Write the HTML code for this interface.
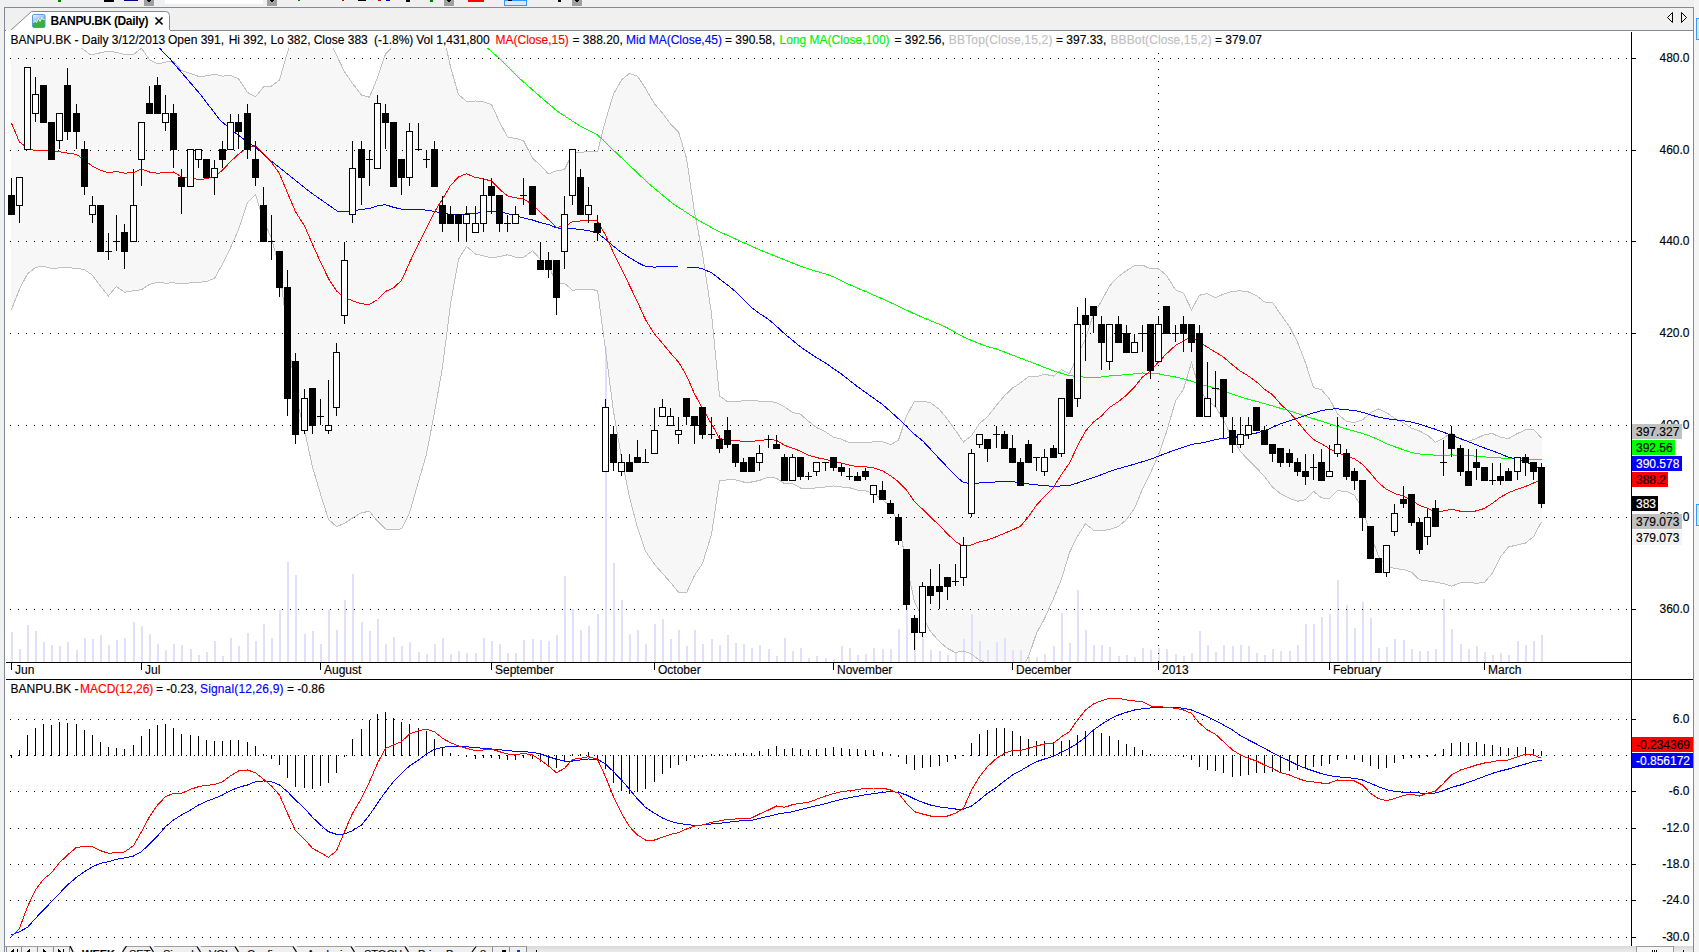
<!DOCTYPE html>
<html><head><meta charset="utf-8"><title>BANPU.BK (Daily)</title>
<style>
html,body{margin:0;padding:0}
body{width:1699px;height:952px;overflow:hidden;background:#f0f0f0;position:relative;font-family:"Liberation Sans",sans-serif;font-size:12px;color:#000}
.t,.ax,.bx{-webkit-text-stroke:0.15px currentColor}
.t{position:absolute;white-space:nowrap;line-height:14px;height:14px}
.ax{position:absolute;white-space:nowrap;line-height:14px;height:14px;right:9.5px;text-align:right}
.bx{position:absolute;left:1632px;height:15px;line-height:16px;padding-left:4px;box-sizing:border-box;white-space:nowrap;overflow:hidden}
.r{color:#f00}.b{color:#00f}.g{color:#00f000}.gy{color:#c0c0c0}
</style></head><body>
<div style="position:absolute;left:4px;top:7px;width:1690px;height:1px;background:#828a96"></div>
<div style="position:absolute;left:4px;top:8px;width:1px;height:944px;background:#828a96"></div>
<div style="position:absolute;left:1693px;top:8px;width:1px;height:944px;background:#828a96"></div>
<div style="position:absolute;left:5px;top:30px;width:1688px;height:1px;background:#828a96"></div>
<svg width="1699" height="952" viewBox="0 0 1699 952" style="position:absolute;left:0;top:0" shape-rendering="crispEdges">
<defs><clipPath id="cp"><rect x="5" y="31" width="1626" height="631"/></clipPath><clipPath id="cm"><rect x="5" y="680" width="1626" height="266"/></clipPath></defs>
<rect x="5" y="31" width="1688" height="915" fill="#fff"/>
<g clip-path="url(#cp)">
<polygon points="11.4,30.0 70.0,40.0 80.0,47.0 91.0,55.0 108.0,51.0 116.4,52.5 124.5,54.3 133.5,54.5 141.5,48.2 149.5,59.7 157.5,64.0 165.5,62.1 173.5,61.1 181.5,70.5 190.5,73.4 198.5,76.4 206.5,75.9 214.5,74.3 222.5,76.1 230.5,75.5 238.5,78.6 247.5,92.4 255.5,96.9 263.5,86.9 271.5,86.1 279.5,79.9 287.5,52.1 295.5,28.8 304.5,21.5 312.5,21.7 320.5,30.1 328.5,37.9 336.5,55.2 344.5,71.8 352.5,83.4 361.5,95.0 369.5,97.3 377.5,77.7 385.5,54.0 393.5,45.7 401.5,32.2 409.5,12.5 418.5,5.7 426.5,1.5 434.5,11.4 442.5,30.5 450.5,66.8 458.5,94.6 466.5,101.3 475.5,101.0 483.5,101.7 491.5,104.4 499.5,121.9 507.5,137.0 515.5,138.4 523.5,140.6 532.5,158.2 540.5,165.4 548.5,173.9 556.5,170.7 564.5,169.7 572.5,153.1 580.5,152.4 588.5,151.4 597.5,151.8 605.5,120.7 613.5,94.2 621.5,80.0 629.5,73.3 637.5,76.3 645.5,88.3 654.5,103.9 662.5,113.1 670.5,123.8 678.5,131.8 686.5,158.1 694.5,212.1 702.5,253.6 711.5,313.4 719.5,395.9 727.5,401.7 735.5,401.7 743.5,400.7 751.5,400.7 759.5,401.1 768.5,401.3 776.5,402.6 784.5,406.8 792.5,412.4 800.5,414.2 808.5,421.3 816.5,427.5 825.5,431.8 833.5,437.1 841.5,439.2 849.5,442.8 857.5,442.8 865.5,442.7 873.5,441.9 882.5,441.8 890.5,444.7 898.5,440.1 906.5,415.8 914.5,401.2 922.5,401.2 930.5,402.6 939.5,409.5 947.5,419.3 955.5,430.5 963.5,441.9 971.5,435.7 979.5,423.4 987.5,416.8 996.5,405.2 1004.5,395.7 1012.5,388.1 1020.5,382.9 1028.5,376.7 1036.5,376.9 1044.5,374.2 1053.5,376.0 1061.5,369.7 1069.5,373.7 1077.5,355.6 1085.5,338.6 1093.5,313.9 1101.5,301.2 1109.5,285.9 1118.5,276.6 1126.5,270.6 1134.5,265.7 1142.5,265.1 1150.5,268.8 1158.5,268.9 1166.5,275.3 1175.5,289.9 1183.5,293.1 1191.5,309.8 1199.5,295.2 1207.5,293.6 1215.5,297.6 1223.5,294.2 1232.5,291.3 1240.5,290.8 1248.5,292.0 1256.5,295.7 1264.5,302.0 1272.5,302.6 1280.5,314.1 1289.5,326.6 1297.5,342.2 1305.5,362.8 1313.5,387.7 1321.5,389.7 1329.5,398.9 1337.5,413.9 1346.5,421.4 1354.5,422.5 1362.5,419.9 1370.5,412.8 1378.5,409.0 1386.5,412.6 1394.5,418.3 1403.5,422.8 1411.5,428.1 1419.5,431.0 1427.5,435.3 1435.5,442.2 1443.5,438.2 1451.5,432.6 1460.5,439.6 1468.5,441.3 1476.5,438.4 1484.5,434.6 1492.5,433.5 1500.5,437.4 1508.5,438.6 1517.5,433.5 1525.5,429.8 1533.5,429.4 1541.5,438.0 1541.5,521.9 1533.5,536.6 1525.5,543.0 1517.5,544.8 1508.5,547.0 1500.5,556.8 1492.5,573.0 1484.5,582.3 1476.5,583.3 1468.5,582.3 1460.5,582.8 1451.5,586.1 1443.5,583.6 1435.5,582.1 1427.5,581.0 1419.5,579.7 1411.5,572.2 1403.5,569.5 1394.5,568.5 1386.5,566.3 1378.5,556.5 1370.5,533.6 1362.5,508.7 1354.5,495.1 1346.5,491.3 1337.5,490.8 1329.5,498.5 1321.5,497.9 1313.5,491.3 1305.5,499.7 1297.5,501.2 1289.5,498.4 1280.5,493.8 1272.5,487.0 1264.5,476.5 1256.5,468.0 1248.5,460.1 1240.5,451.6 1232.5,438.8 1223.5,420.0 1215.5,406.7 1207.5,400.9 1199.5,389.6 1191.5,362.6 1183.5,389.2 1175.5,401.0 1166.5,432.1 1158.5,455.0 1150.5,473.0 1142.5,488.9 1134.5,508.5 1126.5,519.5 1118.5,526.4 1109.5,529.4 1101.5,530.7 1093.5,530.2 1085.5,523.9 1077.5,536.2 1069.5,552.5 1061.5,579.1 1053.5,598.6 1044.5,618.7 1036.5,633.2 1028.5,656.8 1020.5,669.6 1012.5,671.7 1004.5,670.8 996.5,668.1 987.5,663.2 979.5,660.2 971.5,654.1 963.5,651.0 955.5,652.6 947.5,648.5 939.5,641.7 930.5,631.5 922.5,616.9 914.5,602.2 906.5,564.3 898.5,523.5 890.5,506.6 882.5,499.7 873.5,493.4 865.5,490.8 857.5,490.2 849.5,487.7 841.5,487.0 833.5,486.0 825.5,487.0 816.5,487.7 808.5,489.0 800.5,488.0 792.5,483.7 784.5,483.8 776.5,478.3 768.5,477.1 759.5,480.4 751.5,482.0 743.5,482.0 735.5,479.8 727.5,479.8 719.5,480.7 711.5,534.4 702.5,563.5 694.5,575.5 686.5,592.8 678.5,592.2 670.5,582.4 662.5,573.5 654.5,564.3 645.5,551.1 637.5,527.6 629.5,497.5 621.5,457.7 613.5,411.6 605.5,349.5 597.5,290.3 588.5,289.4 580.5,289.6 572.5,290.2 564.5,283.4 556.5,283.6 548.5,265.7 540.5,259.5 532.5,250.7 523.5,257.4 515.5,257.1 507.5,254.8 499.5,256.5 491.5,258.0 483.5,255.8 475.5,254.1 466.5,246.4 458.5,259.3 450.5,304.2 442.5,367.4 434.5,412.3 426.5,454.0 418.5,481.7 409.5,512.9 401.5,528.8 393.5,530.0 385.5,529.0 377.5,521.2 369.5,511.4 361.5,512.6 352.5,518.0 344.5,523.4 336.5,526.6 328.5,519.4 320.5,494.1 312.5,466.9 304.5,430.4 295.5,394.9 287.5,333.6 279.5,267.8 271.5,238.4 263.5,220.4 255.5,194.5 247.5,202.6 238.5,229.9 230.5,247.7 222.5,264.2 214.5,278.3 206.5,281.6 198.5,282.3 190.5,282.9 181.5,283.4 173.5,282.9 165.5,283.1 157.5,282.5 149.5,284.3 141.5,289.7 133.5,290.8 124.5,292.2 116.4,286.4 108.4,296.0 100.4,286.0 92.2,275.0 84.0,269.4 67.4,267.4 51.4,268.4 42.0,266.0 35.4,267.6 27.4,274.0 20.0,288.0 11.4,309.6" fill="#f7f7f7"/>
<path d="M12 662V632M20 662V649M28 662V625M36 662V631M44 662V642M52 662V645M60 662V646M68 662V642M77 662V650M85 662V638M93 662V639M101 662V635M109 662V645M117 662V640M125 662V638M134 662V622M142 662V626M150 662V634M158 662V644M166 662V650M174 662V644M182 662V645M191 662V649M199 662V655M207 662V652M215 662V641M223 662V656M231 662V638M239 662V646M248 662V633M256 662V641M264 662V624M272 662V638M280 662V610M288 662V562M296 662V575M305 662V634M313 662V631M321 662V644M329 662V610M337 662V630M345 662V600M353 662V574M362 662V622M370 662V631M378 662V619M386 662V644M394 662V637M402 662V646M410 662V642M419 662V652M427 662V654M435 662V644M443 662V638M451 662V654M459 662V651M467 662V653M476 662V653M484 662V638M492 662V641M500 662V644M508 662V653M516 662V653M524 662V640M533 662V639M541 662V640M549 662V641M557 662V635M565 662V576M573 662V609M581 662V630M589 662V626M598 662V614M606 662V347M614 662V563M622 662V600M630 662V634M638 662V630M646 662V644M655 662V624M663 662V619M671 662V639M679 662V630M687 662V646M695 662V630M703 662V644M712 662V639M720 662V645M728 662V635M736 662V643M744 662V644M752 662V648M760 662V645M769 662V649M777 662V656M785 662V638M793 662V651M801 662V648M809 662V658M817 662V656M826 662V658M834 662V659M842 662V646M850 662V648M858 662V655M866 662V654M874 662V648M883 662V649M891 662V649M899 662V629M907 662V607M915 662V617M923 662V637M931 662V650M940 662V651M948 662V655M956 662V652M964 662V639M972 662V614M980 662V641M988 662V650M997 662V642M1005 662V638M1013 662V650M1021 662V650M1029 662V657M1037 662V657M1045 662V654M1054 662V646M1062 662V613M1070 662V643M1078 662V590M1086 662V630M1094 662V645M1102 662V645M1110 662V647M1119 662V656M1127 662V655M1135 662V657M1143 662V648M1151 662V650M1159 662V648M1167 662V649M1176 662V654M1184 662V656M1192 662V653M1200 662V631M1208 662V645M1216 662V652M1224 662V645M1233 662V646M1241 662V645M1249 662V646M1257 662V653M1265 662V655M1273 662V649M1281 662V651M1290 662V651M1298 662V645M1306 662V624M1314 662V624M1322 662V617M1330 662V614M1338 662V580M1347 662V605M1355 662V628M1363 662V602M1371 662V618M1379 662V648M1387 662V647M1395 662V639M1404 662V640M1412 662V649M1420 662V651M1428 662V651M1436 662V649M1444 662V599M1452 662V629M1461 662V644M1469 662V649M1477 662V646M1485 662V652M1493 662V655M1501 662V653M1509 662V655M1518 662V641M1526 662V645M1534 662V641M1542 662V635" stroke="#e0e0fa" stroke-width="2" fill="none"/>
</g>
<path d="M10 58.5H1631M10 150.5H1631M10 241.5H1631M10 333.5H1631M10 425.5H1631M10 517.5H1631M10 609.5H1631" stroke="#000" stroke-width="1" stroke-dasharray="1 7" fill="none"/>
<path d="M1158.5 53V662" stroke="#000" stroke-width="1" stroke-dasharray="1 7" fill="none"/>
<g clip-path="url(#cp)">
<polyline points="11.4,30.0 70.0,40.0 80.0,47.0 91.0,55.0 108.0,51.0 116.4,52.5 124.5,54.3 133.5,54.5 141.5,48.2 149.5,59.7 157.5,64.0 165.5,62.1 173.5,61.1 181.5,70.5 190.5,73.4 198.5,76.4 206.5,75.9 214.5,74.3 222.5,76.1 230.5,75.5 238.5,78.6 247.5,92.4 255.5,96.9 263.5,86.9 271.5,86.1 279.5,79.9 287.5,52.1 295.5,28.8 304.5,21.5 312.5,21.7 320.5,30.1 328.5,37.9 336.5,55.2 344.5,71.8 352.5,83.4 361.5,95.0 369.5,97.3 377.5,77.7 385.5,54.0 393.5,45.7 401.5,32.2 409.5,12.5 418.5,5.7 426.5,1.5 434.5,11.4 442.5,30.5 450.5,66.8 458.5,94.6 466.5,101.3 475.5,101.0 483.5,101.7 491.5,104.4 499.5,121.9 507.5,137.0 515.5,138.4 523.5,140.6 532.5,158.2 540.5,165.4 548.5,173.9 556.5,170.7 564.5,169.7 572.5,153.1 580.5,152.4 588.5,151.4 597.5,151.8 605.5,120.7 613.5,94.2 621.5,80.0 629.5,73.3 637.5,76.3 645.5,88.3 654.5,103.9 662.5,113.1 670.5,123.8 678.5,131.8 686.5,158.1 694.5,212.1 702.5,253.6 711.5,313.4 719.5,395.9 727.5,401.7 735.5,401.7 743.5,400.7 751.5,400.7 759.5,401.1 768.5,401.3 776.5,402.6 784.5,406.8 792.5,412.4 800.5,414.2 808.5,421.3 816.5,427.5 825.5,431.8 833.5,437.1 841.5,439.2 849.5,442.8 857.5,442.8 865.5,442.7 873.5,441.9 882.5,441.8 890.5,444.7 898.5,440.1 906.5,415.8 914.5,401.2 922.5,401.2 930.5,402.6 939.5,409.5 947.5,419.3 955.5,430.5 963.5,441.9 971.5,435.7 979.5,423.4 987.5,416.8 996.5,405.2 1004.5,395.7 1012.5,388.1 1020.5,382.9 1028.5,376.7 1036.5,376.9 1044.5,374.2 1053.5,376.0 1061.5,369.7 1069.5,373.7 1077.5,355.6 1085.5,338.6 1093.5,313.9 1101.5,301.2 1109.5,285.9 1118.5,276.6 1126.5,270.6 1134.5,265.7 1142.5,265.1 1150.5,268.8 1158.5,268.9 1166.5,275.3 1175.5,289.9 1183.5,293.1 1191.5,309.8 1199.5,295.2 1207.5,293.6 1215.5,297.6 1223.5,294.2 1232.5,291.3 1240.5,290.8 1248.5,292.0 1256.5,295.7 1264.5,302.0 1272.5,302.6 1280.5,314.1 1289.5,326.6 1297.5,342.2 1305.5,362.8 1313.5,387.7 1321.5,389.7 1329.5,398.9 1337.5,413.9 1346.5,421.4 1354.5,422.5 1362.5,419.9 1370.5,412.8 1378.5,409.0 1386.5,412.6 1394.5,418.3 1403.5,422.8 1411.5,428.1 1419.5,431.0 1427.5,435.3 1435.5,442.2 1443.5,438.2 1451.5,432.6 1460.5,439.6 1468.5,441.3 1476.5,438.4 1484.5,434.6 1492.5,433.5 1500.5,437.4 1508.5,438.6 1517.5,433.5 1525.5,429.8 1533.5,429.4 1541.5,438.0" fill="none" stroke="#c0c0c0" stroke-width="1"/>
<polyline points="11.4,309.6 20.0,288.0 27.4,274.0 35.4,267.6 42.0,266.0 51.4,268.4 67.4,267.4 84.0,269.4 92.2,275.0 100.4,286.0 108.4,296.0 116.4,286.4 124.5,292.2 133.5,290.8 141.5,289.7 149.5,284.3 157.5,282.5 165.5,283.1 173.5,282.9 181.5,283.4 190.5,282.9 198.5,282.3 206.5,281.6 214.5,278.3 222.5,264.2 230.5,247.7 238.5,229.9 247.5,202.6 255.5,194.5 263.5,220.4 271.5,238.4 279.5,267.8 287.5,333.6 295.5,394.9 304.5,430.4 312.5,466.9 320.5,494.1 328.5,519.4 336.5,526.6 344.5,523.4 352.5,518.0 361.5,512.6 369.5,511.4 377.5,521.2 385.5,529.0 393.5,530.0 401.5,528.8 409.5,512.9 418.5,481.7 426.5,454.0 434.5,412.3 442.5,367.4 450.5,304.2 458.5,259.3 466.5,246.4 475.5,254.1 483.5,255.8 491.5,258.0 499.5,256.5 507.5,254.8 515.5,257.1 523.5,257.4 532.5,250.7 540.5,259.5 548.5,265.7 556.5,283.6 564.5,283.4 572.5,290.2 580.5,289.6 588.5,289.4 597.5,290.3 605.5,349.5 613.5,411.6 621.5,457.7 629.5,497.5 637.5,527.6 645.5,551.1 654.5,564.3 662.5,573.5 670.5,582.4 678.5,592.2 686.5,592.8 694.5,575.5 702.5,563.5 711.5,534.4 719.5,480.7 727.5,479.8 735.5,479.8 743.5,482.0 751.5,482.0 759.5,480.4 768.5,477.1 776.5,478.3 784.5,483.8 792.5,483.7 800.5,488.0 808.5,489.0 816.5,487.7 825.5,487.0 833.5,486.0 841.5,487.0 849.5,487.7 857.5,490.2 865.5,490.8 873.5,493.4 882.5,499.7 890.5,506.6 898.5,523.5 906.5,564.3 914.5,602.2 922.5,616.9 930.5,631.5 939.5,641.7 947.5,648.5 955.5,652.6 963.5,651.0 971.5,654.1 979.5,660.2 987.5,663.2 996.5,668.1 1004.5,670.8 1012.5,671.7 1020.5,669.6 1028.5,656.8 1036.5,633.2 1044.5,618.7 1053.5,598.6 1061.5,579.1 1069.5,552.5 1077.5,536.2 1085.5,523.9 1093.5,530.2 1101.5,530.7 1109.5,529.4 1118.5,526.4 1126.5,519.5 1134.5,508.5 1142.5,488.9 1150.5,473.0 1158.5,455.0 1166.5,432.1 1175.5,401.0 1183.5,389.2 1191.5,362.6 1199.5,389.6 1207.5,400.9 1215.5,406.7 1223.5,420.0 1232.5,438.8 1240.5,451.6 1248.5,460.1 1256.5,468.0 1264.5,476.5 1272.5,487.0 1280.5,493.8 1289.5,498.4 1297.5,501.2 1305.5,499.7 1313.5,491.3 1321.5,497.9 1329.5,498.5 1337.5,490.8 1346.5,491.3 1354.5,495.1 1362.5,508.7 1370.5,533.6 1378.5,556.5 1386.5,566.3 1394.5,568.5 1403.5,569.5 1411.5,572.2 1419.5,579.7 1427.5,581.0 1435.5,582.1 1443.5,583.6 1451.5,586.1 1460.5,582.8 1468.5,582.3 1476.5,583.3 1484.5,582.3 1492.5,573.0 1500.5,556.8 1508.5,547.0 1517.5,544.8 1525.5,543.0 1533.5,536.6 1541.5,521.9" fill="none" stroke="#c0c0c0" stroke-width="1"/>
<polyline points="487.0,47.6 500.0,59.0 518.0,77.0 536.0,93.0 557.0,111.0 580.0,126.0 597.0,134.4 610.0,147.0 626.0,162.0 648.0,183.0 672.0,203.0 698.0,220.0 714.0,229.0 720.0,232.0 760.0,250.0 800.0,266.0 816.5,271.4 825.5,273.9 833.5,276.8 841.5,280.8 849.5,284.6 857.5,288.2 865.5,291.4 873.5,295.1 882.5,298.8 890.5,302.6 898.5,306.1 906.5,310.1 914.5,313.9 922.5,317.3 930.5,320.8 939.5,324.2 947.5,328.0 955.5,332.6 963.5,337.0 971.5,340.4 979.5,343.6 987.5,346.6 996.5,349.0 1004.5,352.0 1012.5,355.2 1020.5,358.2 1028.5,361.2 1036.5,364.2 1044.5,367.5 1053.5,370.8 1061.5,373.3 1069.5,375.7 1077.5,376.5 1085.5,377.3 1093.5,377.6 1101.5,377.0 1109.5,375.9 1118.5,375.4 1126.5,374.6 1134.5,373.9 1142.5,373.0 1150.5,373.2 1158.5,373.8 1166.5,375.5 1175.5,377.0 1183.5,378.8 1191.5,381.2 1199.5,384.1 1207.5,386.2 1215.5,388.3 1223.5,391.2 1232.5,394.1 1240.5,396.9 1248.5,399.3 1256.5,401.4 1264.5,403.6 1272.5,405.9 1280.5,408.3 1289.5,410.7 1297.5,413.5 1305.5,416.3 1313.5,418.7 1321.5,421.3 1329.5,423.9 1337.5,426.4 1346.5,429.0 1354.5,431.1 1362.5,433.6 1370.5,436.2 1378.5,439.8 1386.5,443.7 1394.5,446.7 1403.5,449.7 1411.5,452.6 1419.5,454.0 1427.5,454.6 1435.5,455.2 1443.5,455.1 1451.5,455.0 1460.5,455.1 1468.5,455.6 1476.5,456.2 1484.5,456.9 1492.5,457.4 1500.5,458.0 1508.5,458.6 1517.5,458.8 1525.5,459.1 1533.5,459.3 1541.5,459.9" fill="none" stroke="#00ff00" stroke-width="1"/>
<polyline points="159.0,47.6 170.0,59.0 200.0,94.0 220.0,120.0 230.4,129.0 247.4,142.0 255.4,147.0 270.0,160.0 290.0,176.0 310.0,192.0 330.0,206.0 338.0,211.6 350.0,212.0 360.0,209.6 369.5,208.4 377.5,205.9 385.5,204.7 393.5,207.3 401.5,209.2 409.5,209.4 418.5,209.2 426.5,210.2 434.5,211.4 442.5,213.5 450.5,214.3 458.5,214.7 466.5,213.9 475.5,213.3 483.5,212.3 491.5,211.0 499.5,211.4 507.5,213.7 515.5,215.9 523.5,217.8 532.5,220.0 540.5,222.7 548.5,224.5 556.5,227.8 564.5,229.2 572.5,228.6 580.5,229.6 588.5,230.6 597.5,233.1 605.5,239.2 613.5,246.2 621.5,252.5 629.5,257.6 637.5,262.5 645.5,266.4 654.5,267.1 662.5,266.5 670.5,266.9 678.5,267.0 686.5,267.0 694.5,267.0 702.5,268.8 711.5,272.7 719.5,278.9 727.5,284.9 735.5,291.6 743.5,299.8 751.5,307.5 759.5,313.5 768.5,319.3 776.5,326.3 784.5,333.7 792.5,340.3 800.5,346.8 808.5,352.4 816.5,357.7 825.5,363.0 833.5,368.6 841.5,374.1 849.5,380.4 857.5,386.7 865.5,392.3 873.5,398.1 882.5,404.5 890.5,411.5 898.5,418.8 906.5,426.2 914.5,434.3 922.5,440.7 930.5,449.2 939.5,459.0 947.5,467.3 955.5,475.7 963.5,482.6 971.5,483.6 979.5,483.0 987.5,482.7 996.5,481.9 1004.5,481.6 1012.5,481.6 1020.5,482.8 1028.5,484.0 1036.5,484.9 1044.5,485.6 1053.5,486.5 1061.5,485.9 1069.5,485.5 1077.5,483.0 1085.5,480.2 1093.5,477.4 1101.5,474.7 1109.5,471.5 1118.5,468.6 1126.5,466.4 1134.5,464.2 1142.5,461.7 1150.5,459.2 1158.5,456.2 1166.5,453.1 1175.5,449.9 1183.5,447.1 1191.5,444.4 1199.5,443.3 1207.5,441.6 1215.5,439.7 1223.5,438.3 1232.5,437.6 1240.5,436.4 1248.5,434.8 1256.5,433.0 1264.5,430.8 1272.5,427.4 1280.5,423.7 1289.5,420.9 1297.5,418.2 1305.5,415.6 1313.5,412.9 1321.5,410.7 1329.5,409.1 1337.5,408.9 1346.5,409.8 1354.5,410.5 1362.5,412.3 1370.5,414.8 1378.5,417.2 1386.5,418.6 1394.5,419.7 1403.5,420.7 1411.5,422.1 1419.5,424.2 1427.5,426.8 1435.5,429.3 1443.5,432.3 1451.5,435.1 1460.5,438.6 1468.5,441.7 1476.5,444.9 1484.5,448.0 1492.5,450.8 1500.5,453.9 1508.5,457.2 1517.5,459.1 1525.5,462.2 1533.5,465.2 1541.5,469.0" fill="none" stroke="#0000ff" stroke-width="1"/>
<polyline points="11.4,123.0 19.4,142.0 27.4,148.0 35.4,151.0 51.4,150.6 67.4,153.0 76.4,154.4 84.4,160.0 92.2,166.0 100.0,170.0 108.4,173.0 116.4,171.4 124.5,173.2 133.5,172.6 141.5,168.9 149.5,172.0 157.5,173.2 165.5,172.6 173.5,172.0 181.5,176.9 190.5,178.1 198.5,179.4 206.5,178.8 214.5,176.3 222.5,170.2 230.5,161.6 238.5,154.2 247.5,147.5 255.5,145.7 263.5,153.6 271.5,162.2 279.5,173.8 287.5,192.8 295.5,211.8 304.5,225.9 312.5,244.3 320.5,262.1 328.5,278.6 336.5,290.9 344.5,297.6 352.5,300.7 361.5,303.8 369.5,304.4 377.5,299.5 385.5,291.5 393.5,287.8 401.5,280.5 409.5,262.7 418.5,243.7 426.5,227.8 434.5,211.8 442.5,199.0 450.5,185.5 458.5,176.9 466.5,173.8 475.5,177.5 483.5,178.8 491.5,181.2 499.5,189.2 507.5,195.9 515.5,197.7 523.5,199.0 532.5,204.5 540.5,212.5 548.5,219.8 556.5,227.2 564.5,226.6 572.5,221.6 580.5,221.0 588.5,220.4 597.5,221.0 605.5,235.1 613.5,252.9 621.5,268.8 629.5,285.4 637.5,301.9 645.5,319.7 654.5,334.1 662.5,343.3 670.5,353.1 678.5,362.0 686.5,375.5 694.5,393.8 702.5,408.6 711.5,423.9 719.5,438.3 727.5,440.7 735.5,440.7 743.5,441.3 751.5,441.3 759.5,440.7 768.5,439.2 776.5,440.4 784.5,445.3 792.5,448.1 800.5,451.1 808.5,455.1 816.5,457.6 825.5,459.4 833.5,461.6 841.5,463.1 849.5,465.2 857.5,466.5 865.5,466.8 873.5,467.7 882.5,470.8 890.5,475.7 898.5,481.8 906.5,490.1 914.5,501.7 922.5,509.1 930.5,517.0 939.5,525.6 947.5,533.9 955.5,541.5 963.5,546.4 971.5,544.9 979.5,541.8 987.5,540.0 996.5,536.6 1004.5,533.3 1012.5,529.9 1020.5,526.2 1028.5,516.7 1036.5,505.1 1044.5,496.5 1053.5,487.3 1061.5,474.4 1069.5,463.1 1077.5,445.9 1085.5,431.2 1093.5,422.0 1101.5,415.9 1109.5,407.6 1118.5,401.5 1126.5,395.1 1134.5,387.1 1142.5,377.0 1150.5,370.9 1158.5,362.0 1166.5,353.7 1175.5,345.4 1183.5,341.1 1191.5,336.2 1199.5,342.4 1207.5,347.3 1215.5,352.2 1223.5,357.1 1232.5,365.0 1240.5,371.2 1248.5,376.1 1256.5,381.9 1264.5,389.2 1272.5,394.8 1280.5,404.0 1289.5,412.5 1297.5,421.7 1305.5,431.2 1313.5,439.5 1321.5,443.8 1329.5,448.7 1337.5,452.4 1346.5,456.4 1354.5,458.8 1362.5,464.3 1370.5,473.2 1378.5,482.7 1386.5,489.4 1394.5,493.4 1403.5,496.2 1411.5,500.2 1419.5,505.4 1427.5,508.1 1435.5,512.1 1443.5,510.9 1451.5,509.4 1460.5,511.2 1468.5,511.8 1476.5,510.9 1484.5,508.4 1492.5,503.2 1500.5,497.1 1508.5,492.8 1517.5,489.1 1525.5,486.4 1533.5,483.0 1541.5,479.9" fill="none" stroke="#ff0000" stroke-width="1"/>
<path d="M11.5 178V195M19.5 206V223M35.5 77V94M35.5 114V122M59.5 141V149M67.5 68V85M67.5 132V140M76.5 104V113M76.5 132V149M84.5 141V149M84.5 187V195M92.5 196V205M92.5 215V223M108.5 233V260M105 251.5H112M116.5 215V251M113 241.5H120M124.5 224V232M124.5 252V269M133.5 169V205M141.5 160V186M149.5 86V103M157.5 77V85M165.5 95V113M165.5 123V131M173.5 104V113M173.5 150V168M181.5 169V177M181.5 187V214M198.5 160V168M214.5 160V168M214.5 178V195M222.5 141V149M222.5 160V168M230.5 114V122M238.5 114V122M238.5 132V149M247.5 104V113M247.5 150V159M255.5 141V159M255.5 178V186M263.5 187V205M271.5 215V260M268 241.5H275M279.5 288V297M287.5 270V287M287.5 399V416M295.5 353V361M295.5 435V444M304.5 389V398M304.5 431V434M312.5 426V434M320.5 399V425M317 416.5H324M328.5 380V425M328.5 431V434M336.5 343V352M336.5 408V416M344.5 242V260M344.5 316V324M352.5 141V168M352.5 215V223M361.5 141V149M361.5 178V205M369.5 150V186M366 159.5H373M377.5 95V103M385.5 104V113M385.5 123V149M401.5 178V195M409.5 123V131M409.5 178V186M418.5 123V149M415 149.5H422M426.5 150V168M423 159.5H430M434.5 141V149M442.5 196V205M442.5 224V232M450.5 206V214M458.5 224V241M466.5 206V214M466.5 224V241M475.5 206V223M483.5 178V195M483.5 224V232M491.5 178V186M491.5 196V214M499.5 224V232M507.5 215V232M504 223.5H511M515.5 206V214M523.5 178V205M520 195.5H527M540.5 242V260M548.5 252V260M548.5 270V278M556.5 298V315M564.5 196V214M564.5 252V269M572.5 196V205M580.5 169V177M588.5 187V205M588.5 215V223M597.5 215V223M597.5 233V241M605.5 399V407M613.5 426V434M613.5 463V471M621.5 454V462M621.5 472V476M629.5 454V462M637.5 440V457M645.5 449V462M642 462.5H649M654.5 408V430M662.5 399V407M670.5 408V416M678.5 417V430M678.5 435V444M686.5 417V425M694.5 426V444M702.5 435V439M711.5 417V439M708 434.5H715M719.5 435V439M719.5 449V453M727.5 417V430M727.5 445V448M735.5 463V467M743.5 458V462M759.5 445V453M759.5 463V471M768.5 435V448M765 439.5H772M776.5 435V444M784.5 454V457M792.5 454V457M800.5 477V480M808.5 472V480M805 476.5H812M816.5 472V476M825.5 463V471M822 462.5H829M833.5 468V471M841.5 463V467M841.5 472V476M849.5 468V480M846 476.5H853M857.5 472V476M865.5 468V471M865.5 477V480M873.5 495V503M882.5 481V490M890.5 500V503M898.5 514V517M898.5 541V545M906.5 605V609M914.5 615V618M914.5 633V650M922.5 582V586M922.5 633V637M930.5 569V586M930.5 596V604M939.5 564V586M939.5 592V609M947.5 587V600M955.5 564V586M952 581.5H959M963.5 537V545M963.5 578V586M971.5 449V453M971.5 514V517M979.5 445V448M987.5 449V462M996.5 426V448M993 434.5H1000M1004.5 431V434M1012.5 435V448M1020.5 458V462M1028.5 440V444M1036.5 458V471M1033 457.5H1040M1044.5 449V457M1044.5 472V476M1053.5 445V448M1061.5 454V457M1077.5 307V324M1077.5 399V407M1085.5 298V315M1085.5 325V361M1093.5 316V333M1101.5 316V324M1101.5 343V370M1109.5 362V370M1118.5 316V324M1126.5 325V333M1134.5 334V342M1142.5 325V352M1139 333.5H1146M1150.5 371V379M1158.5 316V324M1175.5 325V342M1172 333.5H1179M1183.5 316V324M1183.5 334V352M1191.5 343V352M1199.5 325V333M1207.5 362V398M1215.5 371V407M1212 388.5H1219M1223.5 417V439M1232.5 417V430M1232.5 445V453M1240.5 417V434M1240.5 445V448M1248.5 417V425M1248.5 435V439M1264.5 426V430M1272.5 454V462M1280.5 463V467M1289.5 449V453M1289.5 463V467M1297.5 458V462M1297.5 472V476M1305.5 454V471M1305.5 477V485M1313.5 454V480M1310 467.5H1317M1321.5 449V462M1329.5 445V471M1337.5 417V444M1337.5 454V457M1346.5 449V453M1346.5 477V480M1354.5 468V471M1354.5 481V490M1362.5 518V531M1386.5 573V577M1394.5 504V513M1394.5 532V536M1403.5 486V499M1403.5 504V508M1411.5 523V526M1419.5 518V522M1419.5 550V554M1427.5 509V517M1427.5 537V545M1435.5 500V508M1443.5 440V476M1440 462.5H1447M1451.5 426V434M1451.5 449V457M1460.5 445V448M1460.5 472V476M1468.5 449V471M1476.5 449V462M1476.5 468V480M1492.5 463V485M1489 480.5H1496M1500.5 463V476M1500.5 481V485M1508.5 468V471M1517.5 472V480M1525.5 454V457M1525.5 463V476M1533.5 472V480M1541.5 463V467M1541.5 504V508" stroke="#000" stroke-width="1" fill="none"/>
<path d="M8 195h7v20h-7zM40 85h7v38h-7zM48 122h7v38h-7zM64 85h7v47h-7zM73 113h7v19h-7zM81 149h7v38h-7zM97 205h7v47h-7zM121 232h7v20h-7zM146 103h7v11h-7zM154 85h7v29h-7zM170 113h7v37h-7zM178 177h7v10h-7zM203 159h7v19h-7zM219 149h7v11h-7zM235 122h7v10h-7zM244 113h7v37h-7zM252 159h7v19h-7zM260 205h7v37h-7zM276 251h7v37h-7zM284 287h7v112h-7zM292 361h7v74h-7zM309 388h7v38h-7zM358 149h7v29h-7zM382 113h7v10h-7zM390 122h7v65h-7zM398 159h7v19h-7zM431 149h7v38h-7zM439 205h7v19h-7zM447 214h7v10h-7zM455 214h7v10h-7zM488 186h7v10h-7zM496 195h7v29h-7zM529 186h7v29h-7zM537 260h7v10h-7zM545 260h7v10h-7zM553 260h7v38h-7zM577 177h7v38h-7zM594 223h7v10h-7zM610 434h7v29h-7zM626 462h7v10h-7zM634 457h7v6h-7zM683 398h7v19h-7zM691 416h7v10h-7zM699 407h7v28h-7zM716 439h7v10h-7zM724 430h7v15h-7zM732 444h7v19h-7zM740 462h7v10h-7zM748 457h7v15h-7zM773 444h7v5h-7zM781 457h7v24h-7zM797 457h7v20h-7zM830 457h7v11h-7zM838 467h7v5h-7zM854 476h7v5h-7zM862 471h7v6h-7zM879 490h7v10h-7zM887 503h7v11h-7zM895 517h7v24h-7zM903 549h7v56h-7zM911 618h7v15h-7zM927 586h7v10h-7zM936 586h7v6h-7zM944 577h7v10h-7zM984 439h7v10h-7zM1001 434h7v15h-7zM1009 448h7v15h-7zM1017 462h7v24h-7zM1025 444h7v19h-7zM1050 448h7v10h-7zM1066 379h7v38h-7zM1082 315h7v10h-7zM1090 306h7v10h-7zM1098 324h7v19h-7zM1115 324h7v19h-7zM1123 333h7v20h-7zM1147 324h7v47h-7zM1163 306h7v28h-7zM1180 324h7v10h-7zM1188 324h7v19h-7zM1196 333h7v84h-7zM1220 379h7v38h-7zM1229 430h7v15h-7zM1253 407h7v24h-7zM1261 430h7v15h-7zM1269 444h7v10h-7zM1277 448h7v15h-7zM1286 453h7v10h-7zM1294 462h7v10h-7zM1302 471h7v6h-7zM1318 462h7v19h-7zM1343 453h7v24h-7zM1351 471h7v10h-7zM1359 480h7v38h-7zM1367 526h7v33h-7zM1375 558h7v15h-7zM1400 499h7v5h-7zM1408 494h7v29h-7zM1416 522h7v28h-7zM1432 508h7v19h-7zM1448 434h7v15h-7zM1457 448h7v24h-7zM1465 471h7v15h-7zM1473 462h7v6h-7zM1481 467h7v14h-7zM1497 476h7v5h-7zM1505 471h7v10h-7zM1522 457h7v6h-7zM1530 462h7v10h-7zM1538 467h7v37h-7z" fill="#000"/>
<path d="M16.5 177.5h6v28h-6zM24.5 67.5h6v82h-6zM32.5 94.5h6v19h-6zM56.5 113.5h6v27h-6zM89.5 205.5h6v9h-6zM130.5 205.5h6v36h-6zM138.5 122.5h6v37h-6zM162.5 113.5h6v9h-6zM187.5 149.5h6v37h-6zM195.5 149.5h6v10h-6zM211.5 168.5h6v9h-6zM227.5 122.5h6v27h-6zM301.5 398.5h6v32h-6zM325.5 425.5h6v5h-6zM333.5 352.5h6v55h-6zM341.5 260.5h6v55h-6zM349.5 168.5h6v46h-6zM374.5 103.5h6v65h-6zM406.5 131.5h6v46h-6zM463.5 214.5h6v9h-6zM472.5 223.5h6v9h-6zM480.5 195.5h6v28h-6zM512.5 214.5h6v9h-6zM561.5 214.5h6v37h-6zM569.5 149.5h6v46h-6zM585.5 205.5h6v9h-6zM602.5 407.5h6v64h-6zM618.5 462.5h6v9h-6zM651.5 430.5h6v23h-6zM659.5 407.5h6v9h-6zM667.5 416.5h6v9h-6zM675.5 430.5h6v4h-6zM756.5 453.5h6v9h-6zM789.5 457.5h6v23h-6zM813.5 462.5h6v9h-6zM870.5 485.5h6v9h-6zM919.5 586.5h6v46h-6zM960.5 545.5h6v32h-6zM968.5 453.5h6v60h-6zM976.5 434.5h6v10h-6zM1041.5 457.5h6v14h-6zM1058.5 398.5h6v55h-6zM1074.5 324.5h6v74h-6zM1106.5 324.5h6v37h-6zM1131.5 342.5h6v10h-6zM1155.5 324.5h6v37h-6zM1204.5 398.5h6v18h-6zM1237.5 434.5h6v10h-6zM1245.5 425.5h6v9h-6zM1326.5 471.5h6v5h-6zM1334.5 444.5h6v9h-6zM1383.5 545.5h6v27h-6zM1391.5 513.5h6v18h-6zM1424.5 517.5h6v19h-6zM1514.5 457.5h6v14h-6z" fill="#fff" stroke="#000" stroke-width="1"/>
</g>
<rect x="5" y="31" width="1626" height="17" fill="#fff"/>
<path d="M10 719.5H1631M10 755.5H1631M10 791.5H1631M10 828.5H1631M10 864.5H1631M10 900.5H1631M10 937.5H1631" stroke="#000" stroke-width="1" stroke-dasharray="1 7" fill="none"/>
<path d="M11.5 755V758M19.5 750V756M27.5 735V756M35.5 728V756M43.5 724V756M51.5 725V756M59.5 722V756M67.5 723V756M76.5 724V756M84.5 730V756M92.5 735V756M100.5 742V756M108.5 747V756M116.5 748V756M124.5 749V756M133.5 745V756M141.5 736V756M149.5 729V756M157.5 725V756M165.5 724V756M173.5 728V756M181.5 734V756M190.5 735V756M198.5 736V756M206.5 740V756M214.5 741V756M222.5 741V756M230.5 740V756M238.5 740V756M247.5 742V756M255.5 746V756M263.5 754V756M271.5 755V759M279.5 755V765M287.5 755V778M295.5 755V787M304.5 755V788M312.5 755V789M320.5 755V786M328.5 755V783M336.5 755V773M344.5 755V757M352.5 739V756M361.5 729V756M369.5 720V756M377.5 714V756M385.5 712V756M393.5 718V756M401.5 722V756M409.5 724V756M418.5 728V756M426.5 731V756M434.5 739V756M442.5 748V756M450.5 753V756M458.5 755V756M466.5 755V757M475.5 755V759M483.5 755V758M491.5 755V758M499.5 755V759M507.5 755V760M515.5 755V760M523.5 755V758M532.5 755V759M540.5 755V762M548.5 755V766M556.5 755V768M564.5 755V761M572.5 754V756M580.5 754V756M588.5 752V756M597.5 755V759M605.5 755V769M613.5 755V783M621.5 755V791M629.5 755V794M637.5 755V792M645.5 755V789M654.5 755V782M662.5 755V774M670.5 755V768M678.5 755V765M686.5 755V761M694.5 755V758M702.5 755V757M711.5 754V756M719.5 754V756M727.5 754V756M735.5 753V756M743.5 753V756M751.5 753V756M759.5 751V756M768.5 749V756M776.5 746V756M784.5 749V756M792.5 748V756M800.5 749V756M808.5 750V756M816.5 749V756M825.5 748V756M833.5 747V756M841.5 748V756M849.5 749V756M857.5 749V756M865.5 750V756M873.5 750V756M882.5 752V756M890.5 754V756M898.5 755V757M906.5 755V764M914.5 755V770M922.5 755V768M930.5 755V767M939.5 755V766M947.5 755V762M955.5 755V759M963.5 755V756M971.5 743V756M979.5 734V756M987.5 730V756M996.5 728V756M1004.5 728V756M1012.5 731V756M1020.5 736V756M1028.5 739V756M1036.5 741V756M1044.5 741V756M1053.5 742V756M1061.5 741V756M1069.5 740V756M1077.5 735V756M1085.5 731V756M1093.5 730V756M1101.5 733V756M1109.5 736V756M1118.5 740V756M1126.5 744V756M1134.5 747V756M1142.5 750V756M1150.5 754V756M1158.5 755V756M1166.5 755V756M1175.5 755V756M1183.5 755V757M1191.5 755V760M1199.5 755V767M1207.5 755V770M1215.5 755V771M1223.5 755V773M1232.5 755V777M1240.5 755V776M1248.5 755V775M1256.5 755V773M1264.5 755V773M1272.5 755V772M1280.5 755V772M1289.5 755V771M1297.5 755V770M1305.5 755V769M1313.5 755V767M1321.5 755V766M1329.5 755V764M1337.5 755V760M1346.5 755V759M1354.5 755V760M1362.5 755V762M1370.5 755V766M1378.5 755V769M1386.5 755V768M1394.5 755V763M1403.5 755V759M1411.5 755V758M1419.5 755V758M1427.5 755V757M1435.5 754V756M1443.5 749V756M1451.5 743V756M1460.5 742V756M1468.5 743V756M1476.5 742V756M1484.5 744V756M1492.5 745V756M1500.5 747V756M1508.5 748V756M1517.5 747V756M1525.5 747V756M1533.5 749V756M1541.5 751V756" stroke="#000" stroke-width="1" fill="none"/>
<g clip-path="url(#cm)">
<polyline points="11.5,935.0 19.5,931.7 27.5,927.3 35.5,918.3 43.5,910.0 51.5,901.7 59.5,893.3 67.5,885.0 76.5,877.3 84.5,871.7 92.5,866.7 100.5,863.3 108.5,861.7 116.5,859.3 124.5,858.0 133.5,856.0 141.5,851.7 149.5,844.0 157.5,836.0 165.5,826.7 173.5,820.0 181.5,815.0 190.5,810.0 198.5,805.0 206.5,801.3 214.5,798.3 222.5,795.0 230.5,790.7 238.5,787.3 247.5,785.0 255.5,781.7 263.5,781.0 271.5,781.7 279.5,785.0 287.5,791.7 295.5,800.0 304.5,808.3 312.5,817.3 320.5,825.0 328.5,831.7 336.5,834.3 344.5,834.0 352.5,830.7 361.5,825.0 369.5,815.0 377.5,803.3 385.5,791.7 393.5,781.7 401.5,773.3 409.5,766.0 418.5,760.0 426.5,754.0 434.5,749.3 442.5,747.3 450.5,746.3 458.5,746.3 466.5,746.7 475.5,747.7 483.5,748.3 491.5,749.0 499.5,749.7 507.5,750.7 515.5,751.3 523.5,751.7 532.5,752.3 540.5,754.0 548.5,756.7 556.5,759.3 564.5,761.0 572.5,761.0 580.5,760.0 588.5,759.0 597.5,759.3 605.5,764.0 613.5,771.7 621.5,780.0 629.5,789.3 637.5,799.0 645.5,807.3 654.5,813.3 662.5,818.0 670.5,821.3 678.5,823.3 686.5,824.7 694.5,825.3 702.5,825.0 711.5,824.0 719.5,823.3 727.5,822.3 735.5,821.3 743.5,820.7 751.5,820.3 759.5,818.3 768.5,816.3 776.5,814.3 784.5,813.0 792.5,811.7 800.5,809.7 808.5,807.7 816.5,805.7 825.5,803.7 833.5,801.3 841.5,799.3 849.5,797.7 857.5,796.3 865.5,794.7 873.5,793.7 882.5,792.3 890.5,791.7 898.5,792.3 906.5,795.0 914.5,799.0 922.5,802.3 930.5,805.0 939.5,807.0 947.5,808.0 955.5,809.0 963.5,809.0 971.5,806.0 979.5,800.0 987.5,793.3 996.5,787.3 1004.5,781.0 1012.5,775.0 1020.5,770.7 1028.5,766.0 1036.5,761.7 1044.5,759.0 1053.5,756.3 1061.5,752.0 1069.5,748.3 1077.5,743.3 1085.5,737.3 1093.5,730.0 1101.5,724.3 1109.5,719.3 1118.5,715.0 1126.5,712.3 1134.5,710.0 1142.5,708.7 1150.5,708.0 1158.5,707.3 1166.5,707.3 1175.5,707.3 1183.5,708.3 1191.5,710.0 1199.5,713.3 1207.5,716.7 1215.5,720.7 1223.5,725.0 1232.5,730.0 1240.5,735.7 1248.5,740.0 1256.5,744.0 1264.5,748.3 1272.5,752.7 1280.5,756.7 1289.5,761.0 1297.5,765.0 1305.5,768.3 1313.5,771.0 1321.5,773.7 1329.5,775.7 1337.5,776.7 1346.5,777.7 1354.5,778.3 1362.5,780.0 1370.5,783.3 1378.5,786.7 1386.5,789.7 1394.5,791.3 1403.5,792.3 1411.5,792.3 1419.5,793.0 1427.5,793.3 1435.5,793.0 1443.5,790.7 1451.5,787.3 1460.5,785.0 1468.5,782.3 1476.5,779.3 1484.5,776.3 1492.5,773.3 1500.5,771.0 1508.5,769.0 1517.5,766.3 1525.5,764.0 1533.5,761.7 1541.5,760.0" fill="none" stroke="#0000ff" stroke-width="1"/>
<polyline points="11.5,936.7 19.5,928.3 27.5,906.7 35.5,890.0 43.5,879.3 51.5,872.7 59.5,862.7 67.5,855.0 76.5,847.3 84.5,846.7 92.5,846.7 100.5,850.7 108.5,853.3 116.5,852.7 124.5,852.0 133.5,845.7 141.5,831.7 149.5,816.7 157.5,805.0 165.5,796.7 173.5,793.3 181.5,793.3 190.5,789.3 198.5,786.7 206.5,785.3 214.5,784.7 222.5,781.7 230.5,775.7 238.5,771.0 247.5,770.0 255.5,772.7 263.5,779.3 271.5,786.0 279.5,795.0 287.5,813.3 295.5,830.7 304.5,839.3 312.5,848.3 320.5,852.7 328.5,857.3 336.5,850.7 344.5,831.7 352.5,813.3 361.5,798.3 369.5,781.7 377.5,763.3 385.5,748.3 393.5,745.0 401.5,741.7 409.5,734.0 418.5,730.7 426.5,729.3 434.5,731.7 442.5,738.3 450.5,742.7 458.5,746.0 466.5,748.3 475.5,750.7 483.5,750.0 491.5,749.0 499.5,751.7 507.5,754.0 515.5,755.0 523.5,753.3 532.5,755.0 540.5,760.0 548.5,766.0 556.5,772.7 564.5,768.3 572.5,759.3 580.5,758.3 588.5,756.7 597.5,759.3 605.5,776.7 613.5,796.7 621.5,813.3 629.5,826.7 637.5,835.0 645.5,840.0 654.5,840.0 662.5,837.3 670.5,834.3 678.5,832.7 686.5,829.0 694.5,826.0 702.5,825.0 711.5,822.3 719.5,821.0 727.5,819.3 735.5,819.0 743.5,818.3 751.5,818.0 759.5,814.0 768.5,810.0 776.5,806.0 784.5,807.3 792.5,804.7 800.5,803.3 808.5,802.3 816.5,799.3 825.5,796.0 833.5,793.7 841.5,791.7 849.5,790.7 857.5,789.7 865.5,788.3 873.5,788.0 882.5,788.0 890.5,790.0 898.5,793.3 906.5,803.3 914.5,811.7 922.5,814.0 930.5,816.0 939.5,816.0 947.5,816.0 955.5,813.3 963.5,808.3 971.5,790.0 979.5,776.7 987.5,766.7 996.5,758.3 1004.5,753.3 1012.5,750.3 1020.5,750.3 1028.5,748.3 1036.5,746.0 1044.5,744.0 1053.5,743.3 1061.5,736.7 1069.5,731.7 1077.5,720.0 1085.5,710.0 1093.5,704.0 1101.5,700.7 1109.5,698.3 1118.5,698.3 1126.5,700.0 1134.5,701.0 1142.5,701.7 1150.5,706.0 1158.5,706.7 1166.5,707.3 1175.5,708.3 1183.5,710.0 1191.5,713.3 1199.5,723.3 1207.5,730.0 1215.5,734.3 1223.5,741.7 1232.5,750.0 1240.5,755.0 1248.5,758.3 1256.5,761.0 1264.5,765.0 1272.5,768.3 1280.5,772.7 1289.5,775.0 1297.5,778.3 1305.5,781.0 1313.5,782.0 1321.5,783.0 1329.5,783.0 1337.5,780.0 1346.5,780.7 1354.5,781.0 1362.5,785.0 1370.5,793.3 1378.5,798.7 1386.5,800.7 1394.5,798.7 1403.5,795.3 1411.5,794.3 1419.5,796.0 1427.5,793.3 1435.5,791.0 1443.5,783.3 1451.5,775.0 1460.5,770.0 1468.5,767.7 1476.5,765.0 1484.5,763.0 1492.5,761.7 1500.5,760.3 1508.5,760.0 1517.5,756.7 1525.5,754.3 1533.5,755.0 1541.5,758.3" fill="none" stroke="#ff0000" stroke-width="1"/>
</g>
<path d="M1631.5 32V946M6 662.5H1632M6 679.5H1693" stroke="#000" stroke-width="1" fill="none"/>
<path d="M1632 58.5h4M1632 150.5h4M1632 241.5h4M1632 333.5h4M1632 425.5h4M1632 517.5h4M1632 609.5h4M1632 719.5h4M1632 755.5h4M1632 791.5h4M1632 828.5h4M1632 864.5h4M1632 900.5h4M1632 937.5h4M11.5 663v7M141.5 663v7M320.5 663v7M491.5 663v7M654.5 663v7M833.5 663v7M1012.5 663v7M1158.5 663v7M1329.5 663v7M1484.5 663v7" stroke="#000" stroke-width="1" fill="none"/>
</svg>
<div class="t " style="left:10.5px;top:33px">BANPU.BK - Daily 3/12/2013</div>
<div class="t " style="left:168.0px;top:33px">Open 391,</div>
<div class="t " style="left:228.7px;top:33px">Hi 392,</div>
<div class="t " style="left:270.5px;top:33px">Lo 382,</div>
<div class="t " style="left:313.7px;top:33px">Close 383</div>
<div class="t " style="left:374.0px;top:33px">(-1.8%)</div>
<div class="t " style="left:416.2px;top:33px">Vol 1,431,800</div>
<div class="t r" style="left:495.5px;top:33px">MA(Close,15)</div>
<div class="t " style="left:572.5px;top:33px">= 388.20,</div>
<div class="t b" style="left:626.0px;top:33px">Mid MA(Close,45)</div>
<div class="t " style="left:725.0px;top:33px">= 390.58,</div>
<div class="t g" style="left:779.5px;top:33px">Long MA(Close,100)</div>
<div class="t " style="left:894.5px;top:33px">= 392.56,</div>
<div class="t gy" style="left:948.8px;top:33px"><span style="letter-spacing:0.18px">BBTop(Close,15,2)</span></div>
<div class="t " style="left:1056.0px;top:33px">= 397.33,</div>
<div class="t gy" style="left:1110.5px;top:33px"><span style="letter-spacing:0.11px">BBBot(Close,15,2)</span></div>
<div class="t " style="left:1215.0px;top:33px">= 379.07</div>
<div class="t " style="left:10.5px;top:682px">BANPU.BK -</div>
<div class="t r" style="left:80.0px;top:682px">MACD(12,26)</div>
<div class="t " style="left:156.0px;top:682px">= -0.23,</div>
<div class="t b" style="left:200.0px;top:682px"><span style="letter-spacing:0.15px">Signal(12,26,9)</span></div>
<div class="t " style="left:287.0px;top:682px">= -0.86</div>
<div class="t" style="left:15px;top:663px">Jun</div>
<div class="t" style="left:145px;top:663px">Jul</div>
<div class="t" style="left:324px;top:663px">August</div>
<div class="t" style="left:495px;top:663px">September</div>
<div class="t" style="left:658px;top:663px">October</div>
<div class="t" style="left:837px;top:663px">November</div>
<div class="t" style="left:1016px;top:663px">December</div>
<div class="t" style="left:1162px;top:663px">2013</div>
<div class="t" style="left:1333px;top:663px">February</div>
<div class="t" style="left:1488px;top:663px">March</div>
<div class="ax" style="top:51px">480.0</div>
<div class="ax" style="top:143px">460.0</div>
<div class="ax" style="top:234px">440.0</div>
<div class="ax" style="top:326px">420.0</div>
<div class="ax" style="top:418px">400.0</div>
<div class="ax" style="top:510px">380.0</div>
<div class="ax" style="top:602px">360.0</div>
<div class="ax" style="top:712px">6.0</div>
<div class="ax" style="top:784px">-6.0</div>
<div class="ax" style="top:821px">-12.0</div>
<div class="ax" style="top:857px">-18.0</div>
<div class="ax" style="top:893px">-24.0</div>
<div class="ax" style="top:930px">-30.0</div>
<div class="bx" style="top:424px;width:50px;background:#c0c0c0;color:#000">397.327</div>
<div class="bx" style="top:440px;width:43px;background:#00ff00;color:#000">392.56</div>
<div class="bx" style="top:456px;width:50px;background:#0000ff;color:#fff">390.578</div>
<div class="bx" style="top:472px;width:36px;background:#ff0000;color:#000">388.2</div>
<div class="bx" style="top:496px;width:26px;background:#000;color:#fff">383</div>
<div class="bx" style="top:514px;width:50px;background:#c0c0c0;color:#000">379.073</div>
<div class="bx" style="top:530px;width:50px;background:#f4f4f4;color:#000">379.073</div>
<div class="bx" style="top:737px;width:61px;background:#ff0000;color:#000;padding-left:4px">-0.234369</div>
<div class="bx" style="top:753px;width:61px;background:#0000ff;color:#fff;padding-left:4px">-0.856172</div>
<!-- toolbar remnants -->
<svg width="1699" height="7" style="position:absolute;left:0;top:0" shape-rendering="crispEdges">
<rect x="58" y="0" width="3" height="2" fill="#008000"/>
<rect x="104" y="0" width="10" height="2" fill="#000"/>
<rect x="124" y="0" width="14" height="1" fill="#000080"/>
<rect x="144" y="0" width="10" height="6" fill="#a0a0a0"/><path d="M147 0h4l-2 3z" fill="#000"/>
<rect x="165" y="0" width="98" height="4" fill="#fff"/>
<rect x="267" y="0" width="10" height="6" fill="#a0a0a0"/><path d="M270 0h4l-2 3z" fill="#000"/>
<rect x="298" y="0" width="2" height="1" fill="#008000"/>
<rect x="342" y="0" width="2" height="1" fill="#c00000"/>
<rect x="358" y="0" width="8" height="1" fill="#000"/>
<rect x="378" y="0" width="3" height="1" fill="#c00000"/><rect x="386" y="0" width="4" height="1" fill="#0000c0"/>
<rect x="406" y="0" width="4" height="2" fill="#000"/>
<rect x="430" y="0" width="3" height="2" fill="#008000"/>
<rect x="444" y="0" width="10" height="6" fill="#a0a0a0"/><path d="M447 0h4l-2 3z" fill="#000"/>
<rect x="468" y="0" width="16" height="2" fill="#ff0000"/>
<rect x="504" y="0" width="22" height="5" fill="#d8eafa" stroke="#3399ff"/>
<rect x="508" y="0" width="4" height="1" fill="#000"/>
<rect x="558" y="0" width="3" height="2" fill="#000"/>
<rect x="572" y="0" width="10" height="6" fill="#a0a0a0"/><path d="M575 0h4l-2 3z" fill="#000"/>
</svg>
<!-- top tab -->
<svg width="200" height="24" style="position:absolute;left:0;top:8px">
<defs><linearGradient id="ig" x1="0" y1="0" x2="0.4" y2="1"><stop offset="0" stop-color="#ffffff"/><stop offset="0.45" stop-color="#9cc4ee"/><stop offset="1" stop-color="#3c82d0"/></linearGradient></defs>
<path d="M5 22.5 H10.5 L31.5 3.5 H165.5 Q169.5 3.5 169.5 7.5 V22.5" fill="#fff" stroke="#828a96" stroke-width="1"/>
<rect x="6" y="22" width="164" height="2" fill="#fff" stroke="none"/>
<rect x="32.5" y="6.5" width="12.5" height="13" rx="1.5" fill="url(#ig)" stroke="#5b9ade" stroke-width="1"/>
<path d="M33 19.5 V15.5 L35 13 L36.5 15 L38.5 11 L40 14 L42 10 L43.5 12.5 L44.5 11.5 V19.5Z" fill="#3cb034"/>
<path d="M33.5 15 L35 12.5 L36.5 14.5 L38.5 10.5 L40 13.5 L42 9.5 L43.5 12 L44.5 11" fill="none" stroke="#fff" stroke-width="0.8"/>
<path d="M155.5 9.5 L162.5 16.5 M162.5 9.5 L155.5 16.5" stroke="#000" stroke-width="1.7" fill="none"/>
</svg>
<div class="t" style="left:50.5px;top:14px;font-weight:bold;font-size:12px;letter-spacing:-0.36px;-webkit-text-stroke:0">BANPU.BK (Daily)</div>
<!-- nav arrows right -->
<svg width="40" height="14" style="position:absolute;left:1660px;top:11px">
<path d="M12.5 1.5 L12.5 11.5 L7.5 6.5Z M21.5 1.5 L21.5 11.5 L26.5 6.5Z" fill="none" stroke="#000" stroke-width="1"/>
</svg>
<!-- right sidebar bits -->
<div style="position:absolute;left:1694px;top:0;width:5px;height:952px;background:#f4f4f4"></div>
<div style="position:absolute;left:1696px;top:18px;width:3px;height:22px;background:#d8eafa;border-left:1px solid #3399ff;border-top:1px solid #3399ff;border-bottom:1px solid #3399ff;box-sizing:border-box"></div>
<div style="position:absolute;left:1696px;top:504px;width:3px;height:22px;background:#d8eafa;border-left:1px solid #3399ff;border-top:1px solid #3399ff;border-bottom:1px solid #3399ff;box-sizing:border-box"></div>
<!-- bottom strip -->
<div style="position:absolute;left:5px;top:946px;width:1688px;height:6px;background:#f0f0f0"></div>
<div style="position:absolute;left:527px;top:946px;width:1166px;height:6px;background:linear-gradient(#d8d8d8,#ececec)"></div>
<div style="position:absolute;left:1636px;top:946px;width:38px;height:6px;background:#f6f6f6;border:1px solid #9a9a9a;border-bottom:none;box-sizing:border-box"></div>
<svg width="1699" height="6" style="position:absolute;left:0;top:946px" shape-rendering="crispEdges">
<path d="M72 0H124L122 6H75Z" fill="#fff"/>
<path d="M6.5 0V6M21.5 0V6M37.5 0V6M53.5 0V6M69.5 0V6M492.5 0V6M509.5 0V6M526.5 0V6" stroke="#8a8a8a" fill="none"/>
<path d="M5 0.5H70M126 0.5H150M154 0.5H197M201 0.5H235M239 0.5H293M297 0.5H351M355 0.5H405M409 0.5H474M476 0.5H527" stroke="#a0a0a0" fill="none"/>
<g shape-rendering="auto" stroke="#000" fill="none" stroke-width="1.2">
<path d="M70 0 L73 6"/><path d="M126.5 0 L122.5 6"/><path d="M150 0.5L153.5 6"/><path d="M197 0.5L200.5 6"/><path d="M235 0.5L238.5 6"/><path d="M293 0.5L296.5 6"/><path d="M351 0.5L354.5 6"/><path d="M405 0.5L408.5 6"/><path d="M476 0.5L472 6"/>
</g>
<g fill="#000"><rect x="1652" y="4" width="1" height="2"/><rect x="1654" y="4" width="1" height="2"/><rect x="1656" y="4" width="1" height="2"/><rect x="1683" y="4" width="1" height="2"/><rect x="536" y="4" width="1" height="2"/><rect x="502" y="4" width="4" height="2"/><rect x="517" y="4" width="3" height="2" fill="#1040c0"/>
<path d="M10 6L14 3V6Z M17 3h1v3h-1z M26 6L30 3V6Z M43 3L47 6H43Z M58 3L62 6H58Z M63 3h1v3h-1z"/></g>
</svg>
<div class="t" style="left:82px;top:946.5px;font-size:11px;font-weight:bold">WEEK</div>
<div class="t" style="left:129px;top:946.5px;font-size:11px">SET</div>
<div class="t" style="left:163px;top:946.5px;font-size:11px">Signal</div>
<div class="t" style="left:209px;top:946.5px;font-size:11px">VOL</div>
<div class="t" style="left:247px;top:946.5px;font-size:11px">Confirm</div>
<div class="t" style="left:307px;top:946.5px;font-size:11px">Analysis</div>
<div class="t" style="left:364px;top:946.5px;font-size:11px">STOCH</div>
<div class="t" style="left:418px;top:946.5px;font-size:11px">Price P...</div>
<div class="t" style="left:480px;top:946.5px;font-size:11px">8</div>

</body></html>
